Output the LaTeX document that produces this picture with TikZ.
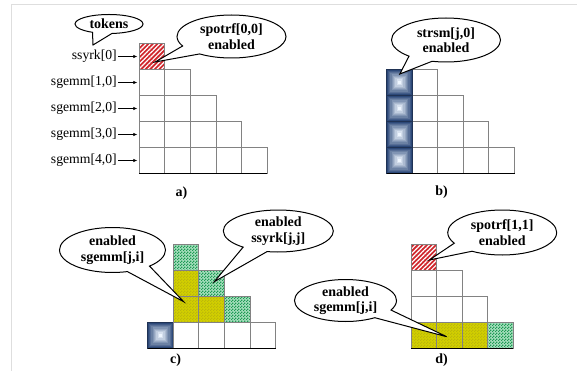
\documentclass[tikz,border=0pt]{standalone}
\usepackage{fontspec}
\setmainfont{Liberation Serif}[BoldFont={Liberation Serif Bold}]
\usetikzlibrary{shapes.callouts,patterns,patterns.meta,calc,arrows.meta}

\definecolor{gridgray}{RGB}{130,130,130}
\definecolor{hatchred}{RGB}{208,38,44}
\definecolor{checkgreen}{RGB}{30,155,85}
\definecolor{checkpale}{RGB}{165,222,188}
\definecolor{oliveyellow}{RGB}{210,208,0}
\definecolor{olivedark}{RGB}{188,184,10}
\definecolor{bluedark}{RGB}{44,72,120}
\definecolor{bluelight}{RGB}{238,246,255}
\definecolor{framegray}{RGB}{222,222,222}

% fine checkerboard: 1.5pt squares
\pgfdeclarepatternformonly{finecheck}{\pgfpointorigin}{\pgfqpoint{3pt}{3pt}}{\pgfqpoint{3pt}{3pt}}{%
  \pgfpathrectangle{\pgfpointorigin}{\pgfqpoint{1.5pt}{1.5pt}}%
  \pgfpathrectangle{\pgfqpoint{1.5pt}{1.5pt}}{\pgfqpoint{1.5pt}{1.5pt}}%
  \pgfusepath{fill}}

\tikzset{
  cell/.style={draw=gridgray, line width=0.9pt, fill=white,
    minimum width=25.6pt, minimum height=26pt, inner sep=0pt, outer sep=0pt},
  potrfcell/.style={cell, preaction={fill=hatchred},
    pattern={Lines[angle=45,distance=3.2pt,line width=1.2pt]}, pattern color=white},
  syrkcell/.style={cell, preaction={fill=checkpale},
    pattern=finecheck, pattern color=checkgreen},
  gemmcell/.style={cell, preaction={fill=oliveyellow},
    pattern=finecheck, pattern color=olivedark},
  trsmcell/.style={cell, draw=bluedark!70!black, path picture={
    \foreach \k in {0,...,9}{
      \pgfmathtruncatemacro\mixv{100*\k/9}
      \fill[bluelight!\mixv!bluedark]
        ([shift={(\k*1.25pt,\k*1.25pt)}]path picture bounding box.south west)
        rectangle
        ([shift={(-\k*1.25pt,-\k*1.25pt)}]path picture bounding box.north east);
    }}},
  baseline rule/.style={line width=1.6pt, black},
  rowlabel/.style={anchor=east, inner sep=1pt, font=\fontsize{13.7}{16}\selectfont},
  tokarrow/.style={line width=0.7pt, -{Latex[length=4pt,width=3.5pt]}, shorten >=2pt},
  bubble/.style={ellipse callout, draw=black, fill=white, line width=1pt,
    inner sep=0pt, align=center, callout pointer arc=28,
    font=\bfseries\fontsize{14}{15.5}\selectfont},
  caption/.style={font=\bfseries\fontsize{14}{16}\selectfont, inner sep=0pt}
}

\begin{document}
\begin{tikzpicture}[x=1pt,y=-1pt]
\useasboundingbox (0,0) rectangle (577,371);

% page frame
\draw[framegray, line width=1.2pt] (11.5,371) -- (11.5,4.3) -- (577,4.3);

% ---------- a) tokens enter the first column ----------
\foreach \r in {0,...,4}{
  \foreach \c in {0,...,\r}{
    \node[cell] (a-\r-\c) at ({139.3+25.6*(\c+0.5)},{43.5+26*(\r+0.5)}) {};
  }
}
\node[potrfcell] (a-0-0) at ({139.3+12.8},{43.5+13}) {};
\draw[baseline rule] (a-4-0.south west) -- (a-4-4.south east);

\node[rowlabel] (la0) at (118,{43.5+13}) {ssyrk[0]};
\node[rowlabel] (la1) at (118,{43.5+39}) {sgemm[1,0]};
\node[rowlabel] (la2) at (118,{43.5+65}) {sgemm[2,0]};
\node[rowlabel] (la3) at (118,{43.5+91}) {sgemm[3,0]};
\node[rowlabel] (la4) at (118,{43.5+117}) {sgemm[4,0]};
\foreach \r in {0,...,4}{
  \draw[tokarrow] (la\r.east) -- (a-\r-0.west);
}

\coordinate (tokptr) at (93,45);
\node[bubble, minimum width=68pt, minimum height=19pt, callout pointer arc=34,
  callout absolute pointer={(tokptr)}] (tokens) at (109,24) {tokens};
\node[bubble, minimum width=109pt, minimum height=43pt,
  callout absolute pointer={($(a-0-0.center)+(3,5.5)$)}] (bpa) at (231.5,36.5)
  {spotrf[0,0]\\enabled};
\node[caption] (capa) at (181.5,193) {a)};

% ---------- b) panel updates of the first column ----------
\foreach \r in {1,...,4}{
  \foreach \c in {1,...,\r}{
    \node[cell] (b-\r-\c) at ({386.5+25.6*(\c+0.5)},{43.5+26*(\r+0.5)}) {};
  }
  \node[trsmcell] (b-\r-0) at ({386.5+12.8},{43.5+26*(\r+0.5)}) {};
}
\draw[baseline rule] (b-4-0.south west) -- (b-4-4.south east);
\node[bubble, minimum width=109pt, minimum height=44pt,
  callout absolute pointer={($(b-1-0.center)+(0.5,-8.5)$)}] (bpb) at (446,40)
  {strsm[j,0]\\enabled};
\node[caption] (capb) at (441.5,192) {b)};

% ---------- c) trailing updates ----------
\foreach \r/\c/\s in {4/0/trsmcell,4/1/cell,4/2/cell,4/3/cell,4/4/cell,
                      3/1/gemmcell,3/2/gemmcell,3/3/syrkcell,
                      2/1/gemmcell,2/2/syrkcell,
                      1/1/syrkcell}{
  \node[\s] (c-\r-\c) at ({147.7+25.6*(\c+0.5)},{218.3+26*(\r+0.5)}) {};
}
\draw[baseline rule] (c-4-0.south west) -- (c-4-4.south east);
\node[bubble, minimum width=106pt, minimum height=45pt,
  callout absolute pointer={($(c-3-1.center)+(-2.4,-7.6)$)}] (bcg) at (112.5,250)
  {enabled\\sgemm[j,i]};
\node[bubble, minimum width=110pt, minimum height=42pt,
  callout absolute pointer={($(c-2-2.center)+(2.6,-1.6)$)}] (bcs) at (278.3,231)
  {enabled\\ssyrk[j,j]};
\node[caption] (capc) at (175.5,360) {c)};

% ---------- d) next diagonal block ----------
\foreach \r/\c/\s in {1/0/potrfcell,
                      2/0/cell,2/1/cell,
                      3/0/cell,3/1/cell,3/2/cell,
                      4/0/gemmcell,4/1/gemmcell,4/2/gemmcell,4/3/syrkcell}{
  \node[\s] (d-\r-\c) at ({411+25.6*(\c+0.5)},{218.3+26*(\r+0.5)}) {};
}
\draw[baseline rule] (d-4-0.south west) -- (d-4-3.south east);
\node[bubble, minimum width=109pt, minimum height=45pt,
  callout absolute pointer={($(d-1-0.center)+(5.5,2.7)$)}] (bdp) at (502.2,232.5)
  {spotrf[1,1]\\enabled};
\node[bubble, minimum width=102pt, minimum height=42pt,
  callout absolute pointer={($(d-4-1.center)+(-2.7,1.4)$)}] (bdg) at (345.5,300.5)
  {enabled\\sgemm[j,i]};
\node[caption] (capd) at (441.5,360) {d)};
\end{tikzpicture}
\end{document}
